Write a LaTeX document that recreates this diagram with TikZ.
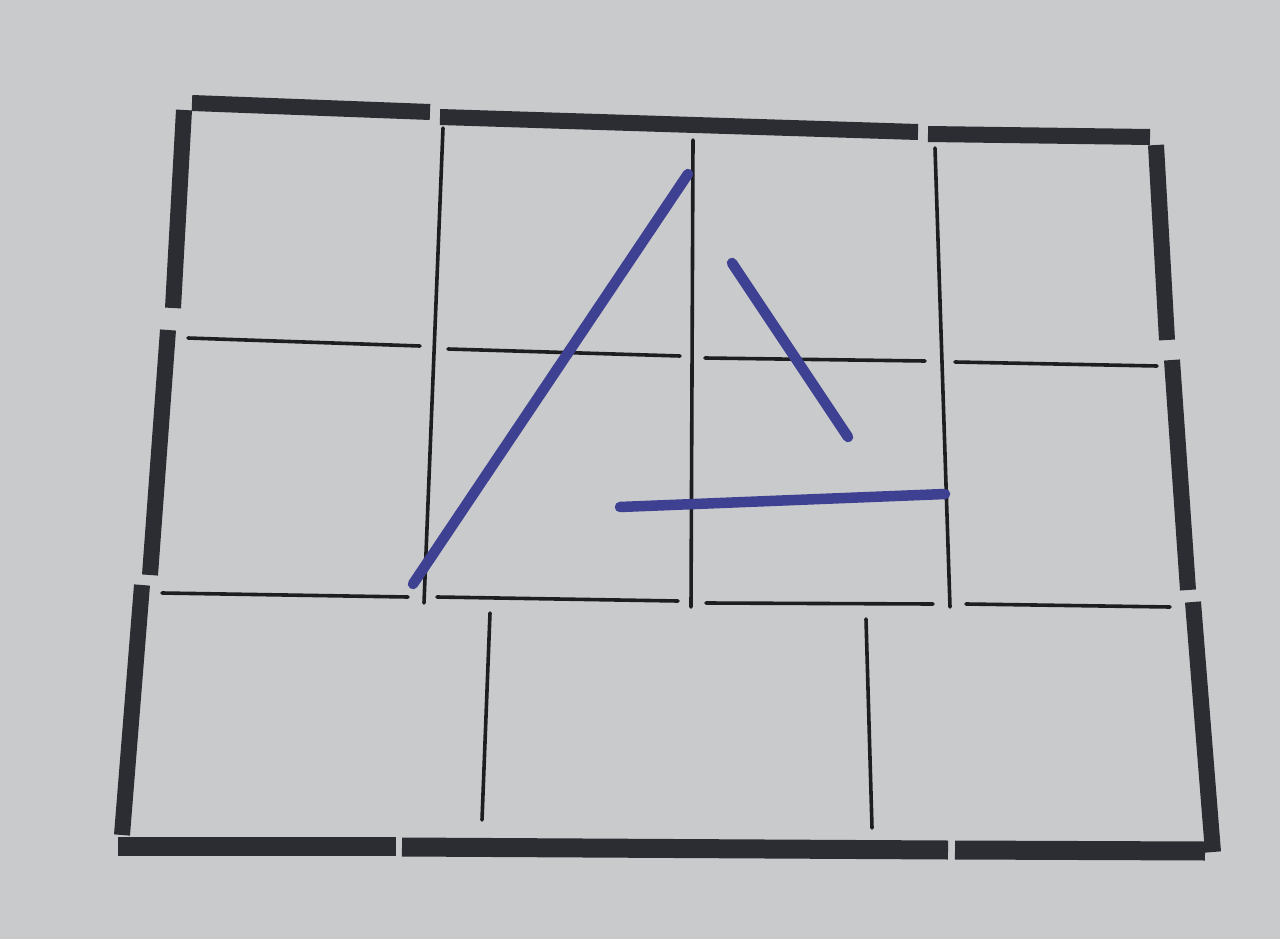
\documentclass[tikz,border=0pt]{standalone}
\definecolor{paper}{RGB}{201,202,204}
\definecolor{framecol}{RGB}{44,45,50}
\definecolor{gridcol}{RGB}{30,30,32}
\definecolor{pencol}{RGB}{62,64,145}
\begin{document}
\begin{tikzpicture}[x=1pt,y=-1pt,
  frame/.style={line width=16pt,draw=framecol,line cap=butt},
  grid/.style={line width=3.6pt,draw=gridcol,line cap=round},
  pen/.style={line width=10.5pt,draw=pencol,line cap=round}]
\fill[paper] (0,0) rectangle (1280,939);
\useasboundingbox (0,0) rectangle (1280,939);
% outer frame
\draw[frame] (192,103) -- (430,112);
\draw[frame] (440,117) -- (918,132);
\draw[frame] (928,134) -- (1150,137);
\draw[frame] (184,110) -- (173,308);
\draw[frame] (168,330) -- (150,575);
\draw[frame] (142,585) -- (122,835);
\draw[frame] (1156,145) -- (1167,340);
\draw[frame] (1172,360) -- (1188,590);
\draw[frame] (1193,602) -- (1213,852);
\draw[frame,line width=19pt] (118,846) -- (396,846);
\draw[frame,line width=19pt] (402,847) -- (948,850);
\draw[frame,line width=19pt] (955,850) -- (1205,851);
% inner grid
\draw[grid] (443,128) -- (424,603);
\draw[grid] (693,140) -- (691,607);
\draw[grid] (935,148) -- (950,607);
\draw[grid] (188,338) -- (420,346);
\draw[grid] (448,349) -- (680,356);
\draw[grid] (705,358) -- (925,361);
\draw[grid] (955,362) -- (1157,366);
\draw[grid] (162,593) -- (408,597);
\draw[grid] (437,597) -- (678,601);
\draw[grid] (706,603) -- (933,604);
\draw[grid] (966,604) -- (1170,607);
\draw[grid] (490,613) -- (482,820);
\draw[grid] (866,619) -- (872,828);
% blue pen strokes
\draw[pen] (688,174) -- (413,584);
\draw[pen] (732,263) -- (848,437);
\draw[pen] (620,507) -- (945,494);
\end{tikzpicture}
\end{document}
